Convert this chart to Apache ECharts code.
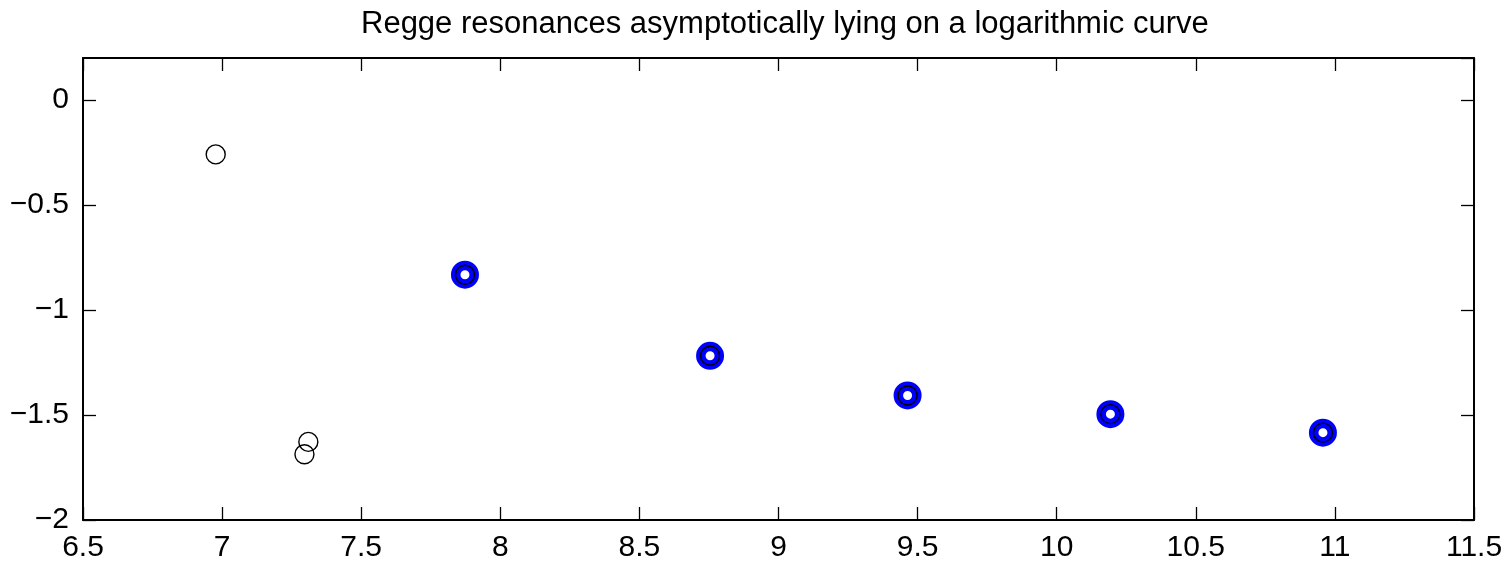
<!DOCTYPE html>
<html>
<head>
<meta charset="utf-8">
<title>Regge resonances</title>
<script src="https://cdn.jsdelivr.net/npm/echarts@6/dist/echarts.min.js"></script>
<style>
  html, body { margin: 0; padding: 0; background: #fff; }
  #chart { width: 1512px; height: 564px; }
</style>
</head>
<body>
<div id="chart"></div>
<script>
// Resonances off the trajectory (plain open circles)
const oddX = [6.977, 7.310, 7.296];
const oddY = [-0.259, -1.628, -1.687];
// Resonances on the logarithmic trajectory (blue rings)
const reggeX = [7.873, 8.754, 9.464, 10.193, 10.957];
const reggeY = [-0.832, -1.218, -1.407, -1.496, -1.584];

const xTicks = { min: 6.5, max: 11.5, step: 0.5 };
const yTicks = { min: -2, max: 0.2, step: 0.5 };

const FONT = 'Liberation Sans, Arial, Helvetica, sans-serif';
const minus = v => String(v).replace('-', '\u2212');

const zip = (xs, ys) => xs.map((x, i) => [x, ys[i]]);

const chart = echarts.init(document.getElementById('chart'), null, { renderer: 'canvas' });

const axisCommon = {
  axisLine: { show: true, onZero: false, lineStyle: { color: '#000', width: 2 } },
  axisTick: { show: true, inside: true, length: 13, lineStyle: { color: '#000', width: 1.3 } },
  splitLine: { show: false }
};

chart.setOption({
  animation: false,
  backgroundColor: '#fff',
  title: {
    // centred over the plot box rather than the whole canvas
    text: 'Regge resonances asymptotically lying on a logarithmic curve',
    left: 356,
    top: 4,
    textStyle: { fontFamily: FONT, fontSize: 31, fontWeight: 'normal', color: '#000' }
  },
  grid: { left: 83, right: 38, top: 58, bottom: 44, containLabel: false },
  xAxis: [
    Object.assign({
      type: 'value', position: 'bottom',
      min: xTicks.min, max: xTicks.max, interval: xTicks.step,
      axisLabel: { show: true, color: '#000', fontFamily: FONT, fontSize: 30, margin: 13, formatter: minus }
    }, axisCommon),
    Object.assign({
      type: 'value', position: 'top',
      min: xTicks.min, max: xTicks.max, interval: xTicks.step,
      axisLabel: { show: false }
    }, axisCommon)
  ],
  yAxis: [
    Object.assign({
      type: 'value', position: 'left',
      min: yTicks.min, max: yTicks.max, interval: yTicks.step,
      axisLabel: { show: true, color: '#000', fontFamily: FONT, fontSize: 30, margin: 14,
                   showMaxLabel: false, formatter: minus }
    }, axisCommon),
    Object.assign({
      type: 'value', position: 'right',
      min: yTicks.min, max: yTicks.max, interval: yTicks.step,
      axisLabel: { show: false }
    }, axisCommon)
  ],
  series: [
    {
      name: 'trajectory',
      type: 'scatter',
      data: zip(reggeX, reggeY),
      symbol: 'circle',
      symbolSize: 18.5,
      itemStyle: { color: '#fff', borderColor: '#0000ff', borderWidth: 9.5, opacity: 1 },
      z: 2
    },
    {
      name: 'resonances',
      type: 'scatter',
      data: zip(oddX.concat(reggeX), oddY.concat(reggeY)),
      symbol: 'circle',
      symbolSize: 19,
      itemStyle: { color: 'rgba(0,0,0,0)', borderColor: '#000', borderWidth: 1.4, opacity: 1 },
      z: 3
    }
  ]
});
</script>
</body>
</html>
